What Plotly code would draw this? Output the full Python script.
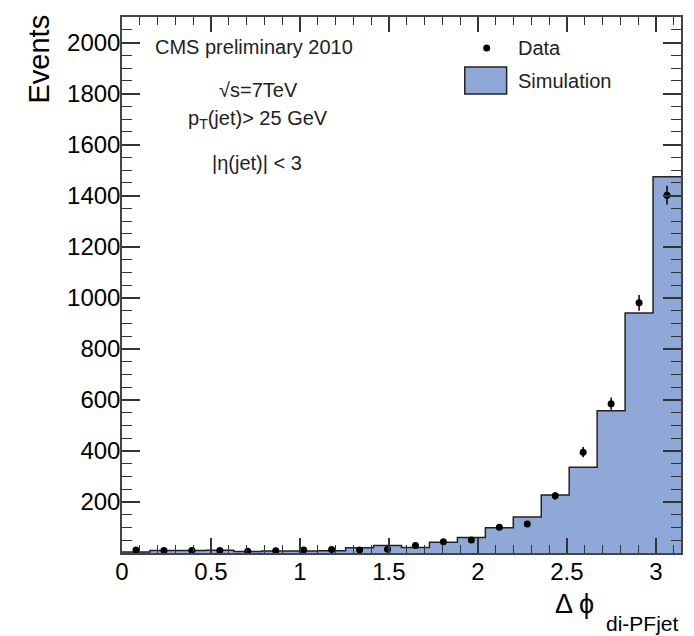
import numpy as np
import plotly.graph_objects as go

# ---- data ----
n_bins = 20
x_min, x_max = 0.0, np.pi
sim_counts = [4, 10, 10, 11, 6, 8, 8, 9, 21, 29, 22, 42, 61, 99, 141, 227, 336, 557, 940, 1474]
data_counts = [12, 10, 10, 10, 7, 9, 12, 14, 12, 15, 29, 44, 51, 101, 114, 224, 395, 585, 980, 1402]
data_errors = [3, 3, 3, 3, 3, 3, 3, 4, 3, 4, 5, 7, 7, 10, 11, 15, 20, 24, 31, 37]
x_tickvals = [0, 0.5, 1, 1.5, 2, 2.5, 3]
x_ticktext = ["0", "0.5", "1", "1.5", "2", "2.5", "3"]
y_tickvals = [200, 400, 600, 800, 1000, 1200, 1400, 1600, 1800, 2000]
y_max = 2100

edges = np.linspace(x_min, x_max, n_bins + 1)
centers = 0.5 * (edges[:-1] + edges[1:])

FONT = "Liberation Sans, Arial, Helvetica, sans-serif"
FILL = "#8fa8d8"

fig = go.Figure()
fig.add_trace(go.Scatter(
    x=list(edges), y=sim_counts + [sim_counts[-1]],
    mode="lines", line=dict(shape="hv", color="#222", width=1.5),
    fill="tozeroy", fillcolor=FILL, showlegend=False, hoverinfo="skip"))
fig.add_trace(go.Scatter(
    x=centers, y=data_counts, mode="markers",
    marker=dict(color="black", size=7),
    error_y=dict(type="data", array=data_errors, color="black", thickness=1.5, width=0),
    showlegend=False))

L, R, T, B = 122, 683, 17, 553
W, H = 694, 636
def px(xp):
    return (xp - L) / (R - L)
def py(yp):
    return (B - yp) / (B - T)

axis_common = dict(showline=True, mirror="allticks", linecolor="#444", linewidth=1.5,
                   ticks="inside", tickcolor="#333", showgrid=False, zeroline=False,
                   tickfont=dict(family=FONT, size=24, color="black"))

fig.update_xaxes(range=[x_min, x_max], tickvals=x_tickvals, ticktext=x_ticktext,
                 ticklen=15, tickwidth=1.5, ticklabelstandoff=-4,
                 minor=dict(ticks="inside", dtick=0.1, ticklen=8, tickcolor="#333", tickwidth=1.2),
                 **axis_common)
fig.update_yaxes(range=[0, y_max], tickvals=y_tickvals,
                 ticklen=18, tickwidth=1.5, ticklabelstandoff=-5,
                 minor=dict(ticks="inside", dtick=50, ticklen=10, tickcolor="#333", tickwidth=1.2),
                 **axis_common)

ann = []
txt = dict(family=FONT, size=20, color="#222")
ann.append(dict(text="CMS preliminary 2010", x=px(153), y=py(47), xanchor="left", yanchor="middle", font=txt))
ann.append(dict(text="√s=7TeV", x=px(217), y=py(90), xanchor="left", yanchor="middle", font=txt))
ann.append(dict(text="p<sub>T</sub>(jet)> 25 GeV", x=px(186), y=py(119), xanchor="left", yanchor="middle", font=txt))
ann.append(dict(text="|η(jet)| < 3", x=px(210), y=py(163), xanchor="left", yanchor="middle", font=txt))
ann.append(dict(text="Data", x=px(517), y=py(48), xanchor="left", yanchor="middle", font=txt))
ann.append(dict(text="Simulation", x=px(517), y=py(81), xanchor="left", yanchor="middle", font=txt))
ann.append(dict(text="Events", textangle=-90, x=0, xshift=-(L - 20), y=1, yshift=4,
                xanchor="left", yanchor="top", font=dict(family=FONT, size=29, color="black")))
ann.append(dict(text="Δ ϕ", x=px(598), y=py(604), xanchor="right", yanchor="middle",
                font=dict(family=FONT, size=27, color="black")))
ann.append(dict(text="di-PFjet", x=1, y=py(623), xanchor="right", yanchor="middle",
                font=dict(family=FONT, size=21, color="black")))
for a in ann:
    a.update(xref="paper", yref="paper", showarrow=False)

shapes = [
    dict(type="rect", xref="paper", yref="paper", x0=px(466), x1=px(508), y0=py(94), y1=py(67),
         fillcolor=FILL, line=dict(color="#222", width=1.5)),
    dict(type="circle", xref="paper", yref="paper", x0=px(484.5), x1=px(491.5), y0=py(51.5), y1=py(44.5),
         fillcolor="black", line=dict(color="black", width=0)),
]

fig.update_layout(width=W, height=H, margin=dict(l=L, r=W - R, t=T, b=H - B),
                  paper_bgcolor="white", plot_bgcolor="white",
                  annotations=ann, shapes=shapes, showlegend=False)

fig.write_html("out.html")
